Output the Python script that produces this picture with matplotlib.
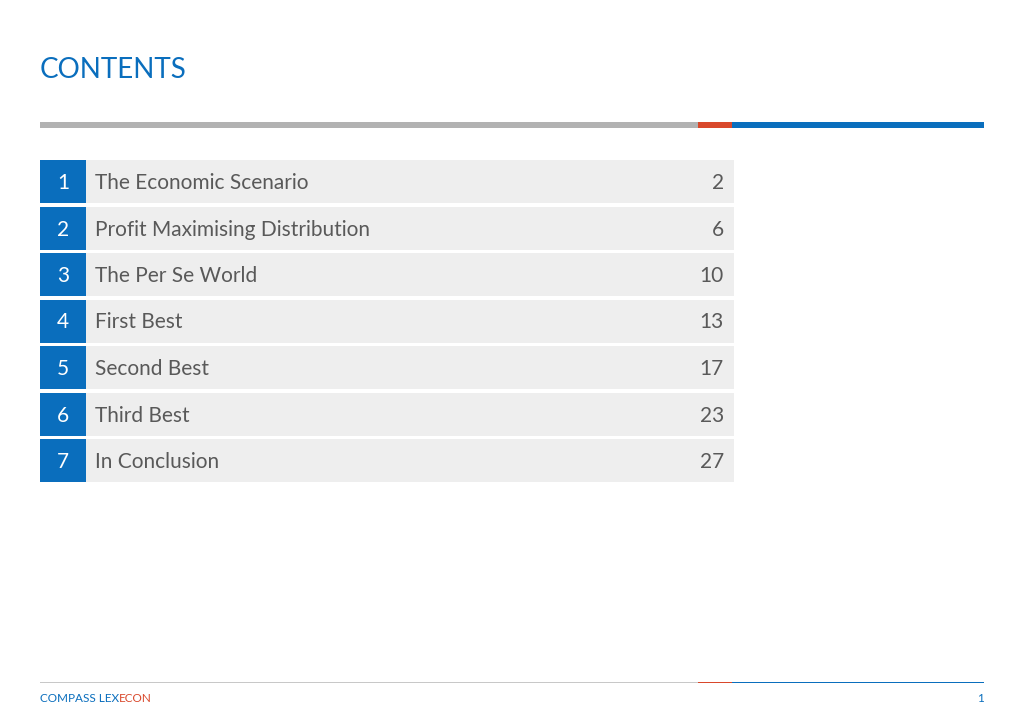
import matplotlib
matplotlib.use("Agg")
import matplotlib.pyplot as plt
from matplotlib.patches import Rectangle

numbers = ["1", "2", "3", "4", "5", "6", "7"]
titles = ["The Economic Scenario", "Profit Maximising Distribution", "The Per Se World",
          "First Best", "Second Best", "Third Best", "In Conclusion"]
pages = ["2", "6", "10", "13", "17", "23", "27"]

BLUE = "#0a6ebd"
RED = "#d9482b"
GRAY = "#b2b2b2"
ROWBG = "#eeeeee"
TXT = "#595959"
FONT = "Lato"

fig = plt.figure(figsize=(10.24, 7.24), dpi=100)
ax = fig.add_axes([0, 0, 1, 1])
ax.set_xlim(0, 1024)
ax.set_ylim(724, 0)
ax.axis("off")

ax.text(40, 70, "CONTENTS", color=BLUE, fontsize=20, family=FONT, va="center", ha="left")

ax.add_patch(Rectangle((40, 122), 658, 5.5, color=GRAY, lw=0))
ax.add_patch(Rectangle((698, 122), 34, 5.5, color=RED, lw=0))
ax.add_patch(Rectangle((732, 122), 252, 5.5, color=BLUE, lw=0))

top0, step, h = 160, 46.5, 43
for i, (n, t, p) in enumerate(zip(numbers, titles, pages)):
    y = top0 + i * step
    ax.add_patch(Rectangle((40, y), 46, h, color=BLUE, lw=0))
    ax.add_patch(Rectangle((86, y), 648, h, color=ROWBG, lw=0))
    cy = y + h / 2 + 1.5
    ax.text(63, cy, n, color="white", fontsize=15, family=FONT, ha="center", va="center")
    ax.text(95, cy, t, color=TXT, fontsize=15, family=FONT, ha="left", va="center")
    ax.text(724, cy, p, color=TXT, fontsize=15, family=FONT, ha="right", va="center")

ax.add_patch(Rectangle((40, 682), 658, 1.2, color="#c8c8c8", lw=0))
ax.add_patch(Rectangle((698, 682), 34, 1.2, color=RED, lw=0))
ax.add_patch(Rectangle((732, 682), 252, 1.2, color=BLUE, lw=0))

t1 = ax.text(40, 699, "COMPASS LEX", color=BLUE, fontsize=8.5, family=FONT, ha="left", va="center")
fig.canvas.draw()
bb = t1.get_window_extent()
x_end = ax.transData.inverted().transform((bb.x1, bb.y0))[0]
ax.text(x_end, 699, "ECON", color=RED, fontsize=8.5, family=FONT, ha="left", va="center")
ax.text(984, 699, "1", color=BLUE, fontsize=8.5, family=FONT, ha="right", va="center")

fig.savefig("out.png", dpi=100)
